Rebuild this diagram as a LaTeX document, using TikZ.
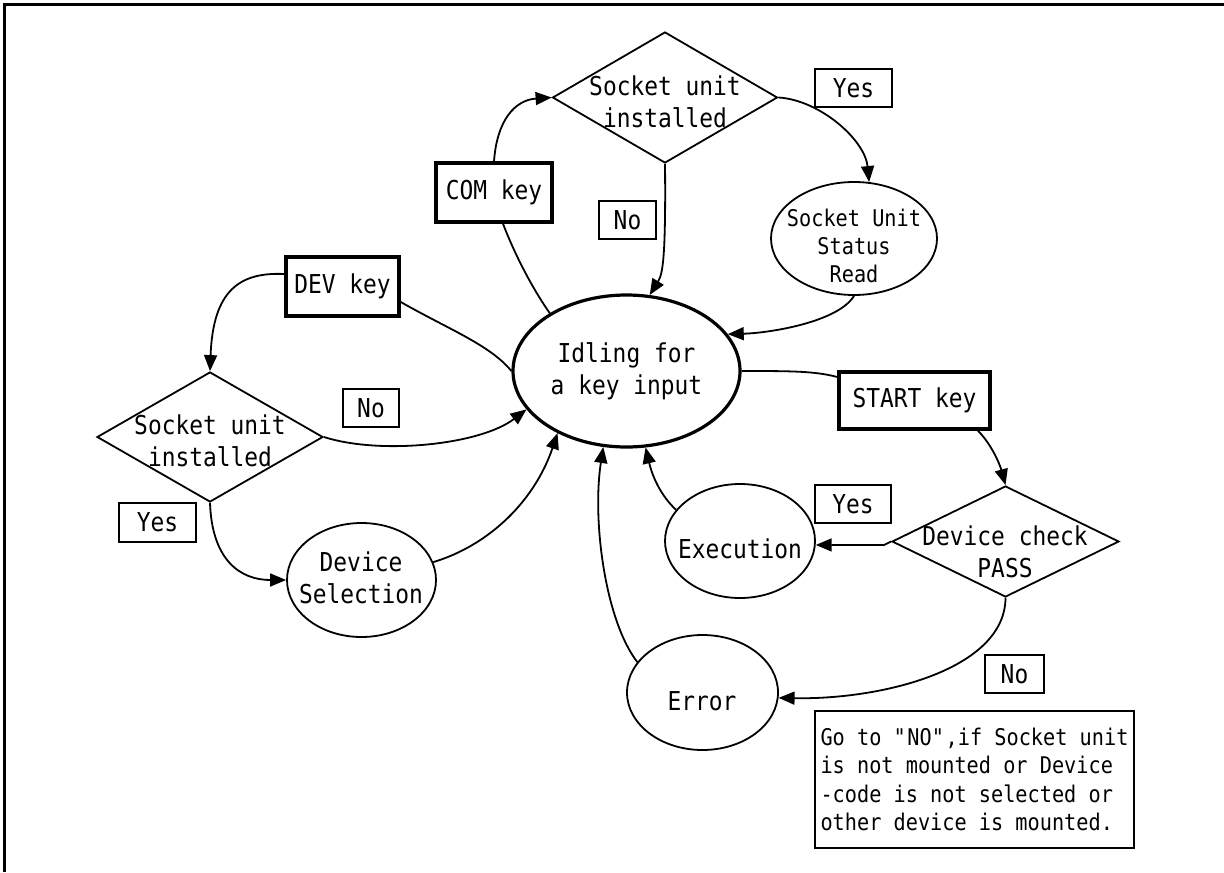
\documentclass[tikz,border=0pt]{standalone}
\usepackage{fontspec}
\setmainfont{DejaVu Sans Mono}[FakeStretch=0.88]
\usetikzlibrary{shapes.geometric,arrows.meta}
\newcommand{\mainsz}{\fontsize{13}{16}\selectfont}
\newcommand{\smallsz}{\fontsize{11.5}{14.2}\selectfont}
\begin{document}
\begin{tikzpicture}[x=0.5pt,y=-0.5pt,
  txt/.style={font=\mainsz, align=center, inner sep=0pt},
  stxt/.style={font=\smallsz, align=center, inner sep=0pt},
  labelbox/.style={draw, line width=0.75pt, inner sep=0pt, font=\mainsz},
  keybox/.style={draw, line width=1.75pt, inner sep=0pt, font=\mainsz},
  state/.style={ellipse, draw, line width=0.9pt, inner sep=0pt},
  decision/.style={diamond, draw, line width=0.9pt, inner sep=0pt},
  conn/.style={line width=0.9pt},
  arr/.style={conn, -{Triangle[length=8pt,width=6.5pt]}},
]
\useasboundingbox (0,0) rectangle (1224,872);
\draw[line width=1.5pt] (4.5,872) -- (4.5,4.5) -- (1224,4.5);

% central state
\node[state, line width=1.6pt, minimum width=113.5pt, minimum height=76pt, font=\mainsz, align=center] (idle) at (626.5,371) {Idling for\\a key input};

% top branch
\node[decision, minimum width=112.5pt, minimum height=65.5pt] (d1) at (665,97.5) {};
\node[txt] (d1t) at (665,102) {Socket unit\\installed};
\node[labelbox, minimum width=38.5pt, minimum height=19pt] (yes1) at (853.5,88) {Yes};
\node[keybox, minimum width=58pt, minimum height=29.5pt] (com) at (494,192.5) {COM key};
\node[labelbox, minimum width=28.5pt, minimum height=19pt] (no1) at (627.5,220) {No};
\node[state, minimum width=83pt, minimum height=56.5pt] (sus) at (854,238.5) {};
\node[stxt] (sust) at (854,246) {Socket Unit\\Status\\Read};

% left branch
\node[keybox, minimum width=56.5pt, minimum height=29.5pt] (dev) at (342.5,286.5) {DEV key};
\node[decision, minimum width=113pt, minimum height=65pt] (d2) at (210,437) {};
\node[txt] (d2t) at (210,441) {Socket unit\\installed};
\node[labelbox, minimum width=28pt, minimum height=19pt] (no2) at (371,408) {No};
\node[labelbox, minimum width=38.5pt, minimum height=19.5pt] (yes2) at (157.5,522.5) {Yes};
\node[state, minimum width=74.5pt, minimum height=57pt] (devsel) at (361.5,580) {};
\node[txt] (devselt) at (361,577.5) {Device\\Selection};

% right branch
\node[keybox, minimum width=75.5pt, minimum height=28.5pt] (start) at (914.5,400.5) {START key};
\node[decision, minimum width=113.5pt, minimum height=55.5pt] (d3) at (1005.5,541.5) {};
\node[txt] (d3t) at (1005,552) {Device check\\PASS};
\node[labelbox, minimum width=38pt, minimum height=19pt] (yes3) at (853,504) {Yes};
\node[state, minimum width=75pt, minimum height=57pt] (exec) at (740,541) {};
\node[txt] (exect) at (740,549) {Execution};
\node[state, minimum width=75.5pt, minimum height=57.5pt] (error) at (702.5,692.5) {};
\node[txt] (errort) at (702,701) {Error};
\node[labelbox, minimum width=29.5pt, minimum height=19pt] (no3) at (1014.5,674) {No};
\node[draw, line width=0.75pt, inner sep=0pt, minimum width=159.5pt, minimum height=68.5pt, font=\smallsz, align=left] (note) at (974.5,779.5)
  {Go to \textquotedbl NO\textquotedbl,if Socket unit\\is not mounted or Device\\-code is not selected or\\other device is mounted.};

% connectors: top
\draw[arr] (com.north) .. controls (497,120) and (515,100) .. (d1.west);
\draw[conn] ([xshift=4.5pt]com.south) .. controls (513,250) and (530,285) .. (idle.143);
\draw[arr] (d1.south) .. controls (666,265) and (662,275) .. (idle.73);
\draw[arr] (d1.east) .. controls (820,100) and (865,140) .. (sus.75);
\draw[arr] (sus.south) .. controls (838,322) and (770,333) .. (idle.20);

% left
\draw[arr] ([yshift=6.25pt]dev.west) .. controls (240,272) and (213,290) .. (d2.north);
\draw[conn] ([yshift=-7.75pt]dev.east) .. controls (450,330) and (490,345) .. (idle.180);
\draw[arr] (d2.east) .. controls (380,455) and (480,445) .. (idle.201);
\draw[arr] (d2.south) .. controls (212,560) and (240,580) .. (devsel.west);
\draw[arr] (devsel.14) .. controls (490,545) and (535,500) .. (idle.222);

% right
\draw[conn] (idle.east) .. controls (790,371) and (815,371) .. ([yshift=11.75pt]start.west);
\draw[arr] ([xshift=31.75pt]start.south) .. controls (992,445) and (1000,465) .. (d3.north);
\draw[arr] (d3.west) -- ++(-7,3.5) -- (exec.-3);
\draw[arr] (d3.south) .. controls (1005,670) and (880,700) .. (error.-4);
\draw[arr] (exec.154) .. controls (660,495) and (652,475) .. (idle.-76);
\draw[arr] (error.155) .. controls (605,620) and (592,520) .. (idle.-107);
\end{tikzpicture}
\end{document}
